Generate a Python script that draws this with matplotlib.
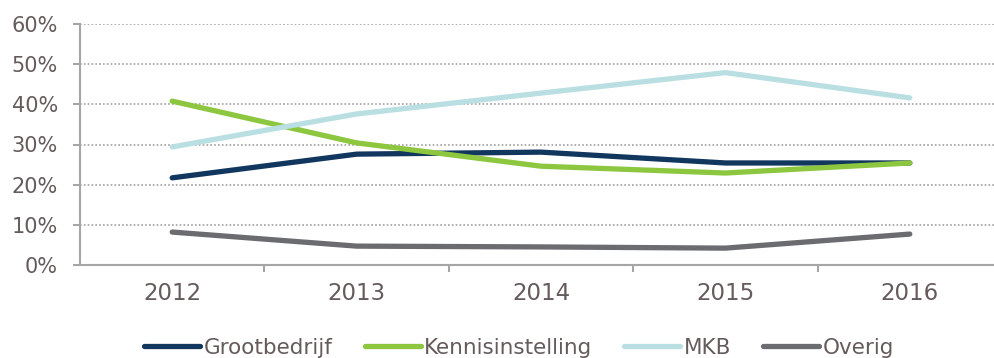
import matplotlib.pyplot as plt
import numpy as np

# jaren en aandelen per type partij
jaren = ['2012', '2013', '2014', '2015', '2016']
grootbedrijf = [21.7, 27.6, 28.1, 25.4, 25.4]
kennisinstelling = [40.8, 30.4, 24.6, 22.9, 25.4]
mkb = [29.4, 37.6, 42.8, 47.9, 41.6]
overig = [8.2, 4.7, 4.5, 4.2, 7.7]

series = [
    ('Grootbedrijf', grootbedrijf, '#12375f'),
    ('Kennisinstelling', kennisinstelling, '#8dc63f'),
    ('MKB', mkb, '#b9dfe3'),
    ('Overig', overig, '#6b6c70'),
]

tekst = '#655b5b'
as_kleur = '#a6a6a6'

fig = plt.figure(figsize=(9.94, 3.58), dpi=100)
ax = fig.add_axes([80 / 994, 1 - 265 / 358, 922 / 994, 241 / 358])

x = np.arange(len(jaren))
for naam, waarden, kleur in series:
    ax.plot(x, waarden, color=kleur, lw=3.8, solid_capstyle='round',
            solid_joinstyle='round', label=naam)

ax.set_xlim(-0.5, len(jaren) - 0.5)
ax.set_ylim(0, 60)
ax.set_yticks(range(0, 61, 10))
ax.set_yticklabels([f'{v}%' for v in range(0, 61, 10)])
ax.set_xticks(x)
ax.set_xticklabels(jaren)
ax.set_xticks(np.arange(0.5, len(jaren) - 0.5, 1), minor=True)

for v in range(10, 61, 10):
    ax.axhline(v, color='#a0a0a0', lw=1.2, ls=(0, (1, 1.3)), zorder=0)

for s in ['top', 'right']:
    ax.spines[s].set_visible(False)
ax.spines['left'].set_color(as_kleur)
ax.spines['bottom'].set_color(as_kleur)
ax.spines['left'].set_linewidth(1.5)
ax.spines['bottom'].set_linewidth(1.5)

ax.tick_params(axis='y', colors=as_kleur, labelcolor=tekst, labelsize=15,
               length=5, width=1.5, pad=11)
ax.tick_params(axis='x', which='major', length=0, labelcolor=tekst,
               labelsize=16.5, pad=12)
ax.tick_params(axis='x', which='minor', colors=as_kleur, length=5, width=1.5)

fig.legend(loc='center', bbox_to_anchor=(519 / 994, 10 / 358), ncol=4,
           frameon=False, fontsize=15.5, labelcolor=tekst, handlelength=2.6,
           handletextpad=0.15, columnspacing=1.5, borderpad=0)

fig.savefig('out.png', dpi=100)
